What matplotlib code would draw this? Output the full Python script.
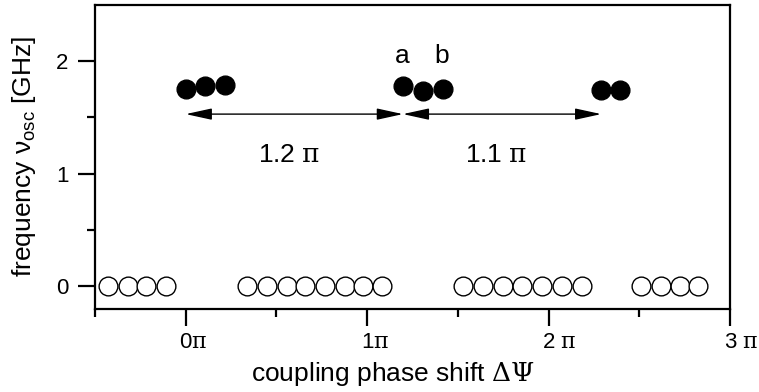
import matplotlib
matplotlib.use("Agg")
import matplotlib.pyplot as plt
import matplotlib.transforms as mtrans
from matplotlib.ticker import FixedLocator

plt.rcParams['font.family'] = ['Liberation Sans', 'DejaVu Sans']
plt.rcParams['mathtext.fontset'] = 'custom'
plt.rcParams['mathtext.rm'] = 'DejaVu Serif'
plt.rcParams['mathtext.it'] = 'DejaVu Serif'
plt.rcParams['mathtext.sf'] = 'Liberation Sans'

# data (x in units of pi, frequency in GHz)
open_x = [-0.428, -0.318, -0.217, -0.110,
          0.340, 0.450, 0.556, 0.656, 0.766, 0.876, 0.975, 1.080,
          1.526, 1.636, 1.746, 1.851, 1.961, 2.072, 2.182,
          2.511, 2.621, 2.722, 2.823]
open_y = [0.0] * len(open_x)
filled_x = [0.0, 0.105, 0.215, 1.197, 1.307, 1.418, 2.290, 2.391]
filled_y = [1.751, 1.780, 1.786, 1.780, 1.736, 1.751, 1.745, 1.745]
arrow_pts = [0.0, 1.197, 2.29]
arrow_y = 1.53
arrow_labels = [r'1.2 $\pi$', r'1.1 $\pi$']
point_labels = ['a', 'b']
xtick_vals = [0, 1, 2, 3]
xtick_labels = [r'0$\pi$', r'1$\pi$', r'2 $\pi$', r'3 $\pi$']
ytick_vals = [0, 1, 2]

fig = plt.figure(figsize=(7.59, 3.92), dpi=100)
ax = fig.add_axes([0.1252, 0.2124, 0.8366, 0.7749])

ax.plot(open_x, open_y, 'o', ms=13.5, mfc='white', mec='black', mew=1.0, ls='none')
ax.plot(filled_x, filled_y, 'o', ms=13.5, mfc='black', mec='black', ls='none')

for x0, x1, lab in zip(arrow_pts[:-1], arrow_pts[1:], arrow_labels):
    ax.annotate('', xy=(x1, arrow_y), xytext=(x0, arrow_y),
                arrowprops=dict(arrowstyle='<|-|>,head_length=1.6,head_width=0.35',
                                color='black', lw=1.0, shrinkA=0, shrinkB=0))
    ax.text((x0 + x1) / 2 - 0.03, 1.17, lab, fontsize=19, ha='center', va='center')

for lx, lab in zip([filled_x[3], filled_x[5]], point_labels):
    ax.text(lx - 0.005, 1.98, lab, fontsize=19, ha='center', va='baseline')

ax.set_xlim(-0.5, 3.0)
ax.set_ylim(-0.2, 2.5)
ax.xaxis.set_major_locator(FixedLocator(xtick_vals))
ax.set_xticklabels(xtick_labels)
ax.xaxis.set_minor_locator(FixedLocator([-0.5, 0.5, 1.5, 2.5]))
ax.yaxis.set_major_locator(FixedLocator(ytick_vals))
ax.yaxis.set_minor_locator(FixedLocator([0.5, 1.5]))

for s in ax.spines.values():
    s.set_linewidth(1.6)
ax.tick_params(which='major', direction='out', length=12, width=1.6, labelsize=16)
ax.tick_params(axis='x', which='major', pad=5)
ax.tick_params(axis='y', which='major', pad=7)
ax.tick_params(which='minor', direction='out', length=6, width=1.6)
ax.tick_params(top=False, right=False, which='both')

# digit centred on the tick, pi appended to the right
offset = mtrans.ScaledTranslation(-4.6 / 72, 0, fig.dpi_scale_trans)
for lab in ax.get_xticklabels():
    lab.set_horizontalalignment('left')
    lab.set_transform(lab.get_transform() + offset)

ax.set_xlabel(r'coupling phase shift $\Delta\Psi$', fontsize=19, labelpad=0)
ax.xaxis.set_label_coords(0.469, -0.17)
ax.set_ylabel(r'frequency ν$_{\mathsf{osc}}$ [GHz]', fontsize=19)
ax.yaxis.set_label_coords(-0.09, 0.5)

fig.savefig('out.png', dpi=100)
